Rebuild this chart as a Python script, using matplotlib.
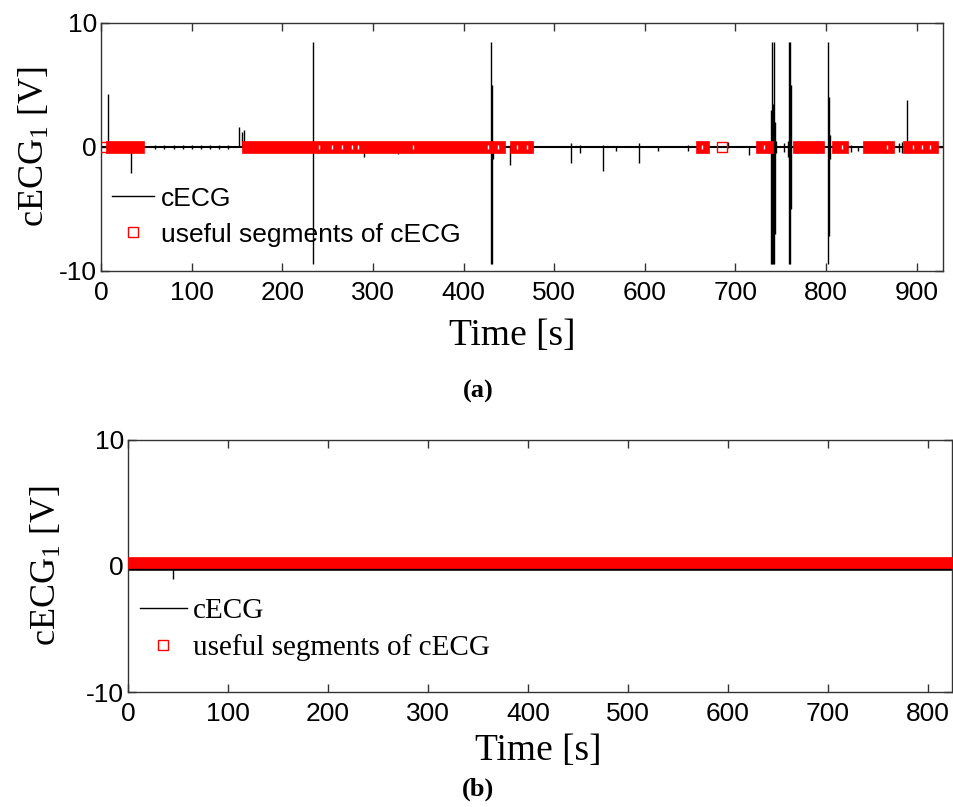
import matplotlib.pyplot as plt
from matplotlib.lines import Line2D

plt.rcParams['mathtext.fontset'] = 'custom'
plt.rcParams['mathtext.rm'] = 'Liberation Serif'
plt.rcParams['mathtext.it'] = 'Liberation Serif:italic'
plt.rcParams['axes.unicode_minus'] = False

# ---------------- data ----------------
# (a) cECG trace: end of record and spikes (time [s], upper, lower value [V])
t_end_a = 929
spike_t_a = [7.6, 33, 60, 70, 80, 90, 100, 110, 120, 130, 140, 152, 155, 158,
             234, 290, 328, 343, 395, 430.5, 431.2, 432, 451, 475, 518, 529,
             554, 568, 594, 615, 648, 692, 715, 739.5, 740.5, 741.5, 742.5,
             743.5, 745, 753, 758, 759, 760, 761, 768, 802, 803, 804, 828,
             835, 865, 880, 884, 889, 892]
spike_hi_a = [4.3, 0.2, 0.2, 0.2, 0.2, 0.2, 0.2, 0.2, 0.2, 0.2, 0.2, 1.6, 1.2, 1.4,
              8.5, 0.3, 0.2, 0.2, 0.2, 8.5, 5.0, 0.5, 0.2, 0.3, 0.3, 0.2,
              0.2, 0.1, 0.3, 0.1, 0.2, 0.4, 0.1, 3.0, 8.5, 3.5, 8.5,
              2.0, 0.5, 0.3, 0.5, 8.5, 8.5, 5.0, 0.2, 8.5, 4.0, 1.0, 0.2,
              0.1, 0.1, 0.3, 0.4, 3.8, 0.3]
spike_lo_a = [-0.2, -2.1, -0.2, -0.2, -0.2, -0.2, -0.2, -0.2, -0.2, -0.2, -0.2, 0.0, 0.0, -0.3,
              -9.4, -0.8, -0.6, -0.5, -0.4, -9.4, -9.4, -1.0, -1.45, -0.3, -1.3, -0.5,
              -1.9, -0.3, -1.3, -0.3, -0.3, -0.1, -0.65, -9.4, -9.4, -9.4, -9.4,
              -7.0, -0.5, -0.4, -0.8, -9.4, -9.4, -5.0, -0.5, -9.4, -7.2, -1.0, -0.4,
              -0.3, -0.5, -0.4, -0.5, -0.3, -0.3]

# (a) useful segments of cECG (start, end [s]), single windows and window borders
seg_start_a = [5, 156, 451, 656, 723, 763, 807, 841, 885]
seg_end_a = [47, 446, 477, 671, 741, 798, 824, 875, 923]
single_t_a = [2.5, 685]
gap_t_a = [241, 255, 266, 277, 284, 344, 427, 438, 459, 470, 663, 731, 817, 867, 896, 906, 915]

# (b) cECG trace
t_end_b = 824
base_b = -0.15
spike_t_b = [45]
spike_hi_b = [0.0]
spike_lo_b = [-1.0]

# (b) useful segments of cECG
seg_start_b = [0]
seg_end_b = [824]
seg_lo_b = -0.16
seg_hi_b = 0.71

labels = ['cECG', 'useful segments of cECG']

# ---------------- figure ----------------
fig = plt.figure(figsize=(9.54, 8.07), dpi=100)
ax_a = fig.add_axes([0.1059, 0.6642, 0.8826, 0.3073])
ax_b = fig.add_axes([0.1342, 0.1425, 0.8637, 0.3123])

sans = 'Liberation Sans'
serif = 'Liberation Serif'
red = '#ff0000'


def style_axes(ax, xmax):
    ax.set_xlim(0, xmax)
    ax.set_ylim(-10, 10)
    ax.set_xticks(range(0, int(xmax) + 1, 100))
    ax.set_yticks([-10, 0, 10])
    ax.tick_params(direction='in', top=True, right=True, length=6, width=1,
                   labelsize=19, color='#333333', pad=7)
    ax.tick_params(axis='y', pad=3)
    for lab in ax.get_xticklabels() + ax.get_yticklabels():
        lab.set_family(sans)
    for sp in ax.spines.values():
        sp.set_color('#333333')
        sp.set_linewidth(1)


# ---- panel (a) ----
ax_a.plot([0, t_end_a], [0, 0], color='k', lw=1.5, zorder=2)
ax_a.vlines(spike_t_a, spike_lo_a, spike_hi_a, color='k', lw=1, zorder=2)
ax_a.broken_barh([(s, e - s) for s, e in zip(seg_start_a, seg_end_a)], (-0.45, 0.9),
                 facecolor=red, edgecolor=red, lw=0.5, zorder=3)
ax_a.plot(single_t_a, [0] * len(single_t_a), 's', ms=7, mfc='none', mec=red, mew=1, zorder=3)
ax_a.plot(gap_t_a, [0] * len(gap_t_a), '|', ms=3, mec='white', mew=1, zorder=4)
style_axes(ax_a, t_end_a)
ax_a.set_ylabel(r'cECG$_1$ [V]', family=serif, fontsize=26)
ax_a.yaxis.set_label_coords(-0.058, 0.5)
ax_a.set_xlabel('Time [s]', family=serif, fontsize=27)
ax_a.xaxis.set_label_coords(0.488, -0.19)

handles_a = [Line2D([], [], color='k', lw=1),
             Line2D([], [], ls='none', marker='s', ms=7, mfc='none', mec=red, mew=1)]
ax_a.legend(handles_a, labels, loc='upper left', bbox_to_anchor=(0.013, 0.34),
            frameon=False, prop={'family': sans, 'size': 19}, handlelength=1.6,
            handletextpad=0.25, labelspacing=0.45, borderpad=0, borderaxespad=0)

# ---- panel (b) ----
ax_b.plot([0, t_end_b], [base_b, base_b], color='k', lw=4, zorder=2)
ax_b.vlines(spike_t_b, spike_lo_b, spike_hi_b, color='k', lw=1, zorder=2)
ax_b.broken_barh([(s, e - s) for s, e in zip(seg_start_b, seg_end_b)],
                 (seg_lo_b, seg_hi_b - seg_lo_b), facecolor=red, edgecolor=red, lw=0.5, zorder=3)
style_axes(ax_b, t_end_b)
ax_b.set_ylabel(r'cECG$_1$ [V]', family=serif, fontsize=26)
ax_b.yaxis.set_label_coords(-0.078, 0.5)
ax_b.set_xlabel('Time [s]', family=serif, fontsize=27)
ax_b.xaxis.set_label_coords(0.4976, -0.165)

handles_b = [Line2D([], [], color='k', lw=1),
             Line2D([], [], ls='none', marker='s', ms=7, mfc='none', mec=red, mew=1)]
ax_b.legend(handles_b, labels, loc='upper left', bbox_to_anchor=(0.0146, 0.375),
            frameon=False, prop={'family': serif, 'size': 21}, handlelength=1.6,
            handletextpad=0.2, labelspacing=0.35, borderpad=0, borderaxespad=0)

# panel captions
fig.text(0.501, 1 - 391 / 807, '(a)', family=serif, weight='bold', fontsize=19,
         ha='center', va='center')
fig.text(0.501, 1 - 789 / 807, '(b)', family=serif, weight='bold', fontsize=19,
         ha='center', va='center')

fig.savefig('out.png', dpi=100)
